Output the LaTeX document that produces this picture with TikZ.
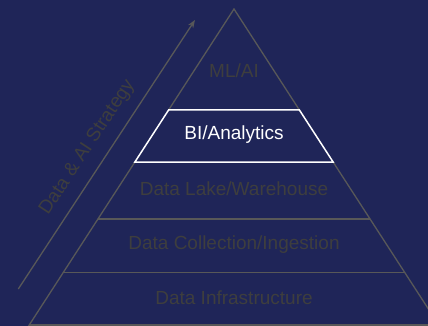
\documentclass[tikz,border=0pt]{standalone}
\usepackage{fontspec}
\setmainfont{Liberation Sans}
\usetikzlibrary{arrows.meta}
\definecolor{bg}{RGB}{31,37,88}
\definecolor{edge}{RGB}{88,88,88}
\definecolor{txt}{RGB}{62,62,62}
\begin{document}
\begin{tikzpicture}[x=1pt,y=-1pt,
  lvltext/.style={font=\fontsize{19}{21}\selectfont, text=txt, anchor=base, inner sep=0pt},
  hitext/.style={lvltext, text=white},
  greyline/.style={draw=edge, line width=1.3pt},
  whiteline/.style={draw=white, line width=1.5pt, line join=miter}]
\fill[bg] (0,0) rectangle (428,326);
\useasboundingbox (0,0) rectangle (428,326);
\begin{scope}
\clip (0,0) rectangle (428,326);
% pyramid points
\coordinate (apex) at (234,9);
\coordinate (l1) at (168.6,110);   \coordinate (r1) at (299.4,110);
\coordinate (l2) at (134.9,162);   \coordinate (r2) at (333.1,162);
\coordinate (l3) at (97.9,219);    \coordinate (r3) at (370.1,219);
\coordinate (l4) at (63.3,272.5);  \coordinate (r4) at (404.7,272.5);
\coordinate (l5) at (29.2,325);    \coordinate (r5) at (438.8,325);
\coordinate (l6) at (19.5,340);    \coordinate (r6) at (448.5,340);
% grey outline
\draw[greyline] (l1) -- (apex) -- (r1);
\draw[greyline] (l2) -- (l6);
\draw[greyline] (r2) -- (r6);
\draw[greyline] (l3) -- (r3);
\draw[greyline] (l4) -- (r4);
\draw[greyline] (l5) -- (r5);
% highlighted level
\draw[whiteline] (l1) -- (r1) -- (r2) -- (l2) -- cycle;
\end{scope}
% labels
\node[lvltext] (mlai) at (234,77.5) {ML/AI};
\node[hitext] (bi) at (234,139.5) {BI/Analytics};
\node[lvltext] (lake) at (234,195.7) {Data Lake/Warehouse};
\node[lvltext] (coll) at (234,249) {Data Collection/Ingestion};
\node[lvltext] (infra) at (234,304) {Data Infrastructure};
% strategy arrow
\coordinate (as) at (18.3,289);
\coordinate (ae) at (195,20);
\draw[draw=edge, line width=1.3pt, -{Stealth[length=8pt,width=6pt]}] (as) -- (ae);
\node[font=\fontsize{19}{21}\selectfont, text=txt, rotate=56.7, inner sep=0pt] (strat) at (87.5,147.5) {Data \& AI Strategy};
\end{tikzpicture}
\end{document}
